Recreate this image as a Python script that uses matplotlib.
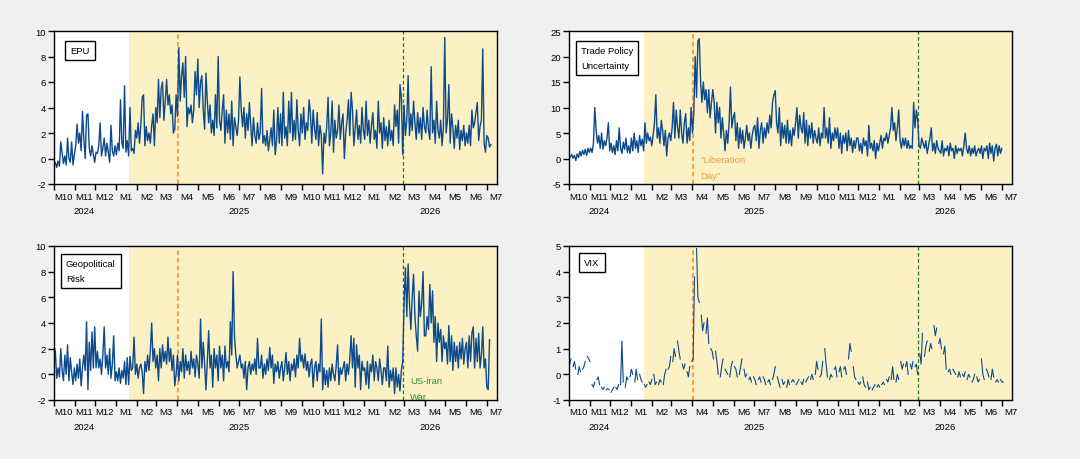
import numpy as np
import pandas as pd
import matplotlib
matplotlib.use("Agg")
import matplotlib.pyplot as plt
import matplotlib.dates as mdates

plt.rcParams['font.family'] = ['Liberation Sans', 'DejaVu Sans']
plt.rcParams['axes.unicode_minus'] = False

# every second day from 2024-10-01 (by month)
epu = [
    -0.5, -0.3, -0.7, -0.2, -0.6, 1.3, 0.4, -0.4, 0.2, -0.5, 1.6, 0.0, -0.3, 1.3, -0.5, 0.3,   # Oct 24
    1.0, 2.7, 1.2, 2.0, 0.6, 3.7, 1.5, 0.0, 3.4, 3.5, 0.8, 0.2, 1.0, 0.3, -0.3,              # Nov
    0.5, 0.4, 1.0, 2.8, 0.2, 0.8, 1.6, 0.2, 1.2, 0.5, -0.3, 2.6, 0.6, 0.2, 1.0,              # Dec
    0.3, 1.2, 0.6, 4.6, 1.2, 0.8, 5.7, 0.5, 1.4, 0.2, 4.0, 0.6, 0.8, 0.4, 2.2, 1.6,          # Jan 25
    2.8, 1.2, 2.6, 4.8, 5.0, 1.0, 2.5, 1.4, 2.0, 1.2, 2.6, 3.5, 1.0, 4.0,                    # Feb
    2.8, 6.2, 3.2, 5.5, 6.0, 3.0, 4.5, 6.2, 4.2, 5.0, 3.5, 4.2, 2.0, 2.3, 5.0,               # Mar
    3.3, 8.7, 4.5, 6.5, 7.5, 4.8, 8.0, 2.5, 4.0, 3.5, 4.2, 2.8, 3.8, 6.8, 5.0,               # Apr
    7.8, 4.0, 6.0, 6.5, 3.8, 2.3, 6.7, 4.5, 2.8, 4.2, 2.0, 3.0, 1.8, 5.0, 2.4, 8.0,          # May
    3.0, 2.2, 3.8, 5.0, 1.2, 3.8, 2.0, 3.5, 1.5, 4.5, 1.0, 3.2, 2.5, 1.8, 3.0,               # Jun
    6.4, 3.8, 2.5, 4.0, 1.6, 3.5, 2.2, 4.4, 2.6, 1.0, 3.2, 1.8, 1.2, 2.8, 1.5,               # Jul
    2.0, 5.5, 1.2, 1.8, 1.0, 2.2, 0.6, 1.5, 2.4, 1.0, 3.8, 0.3, 1.4, 4.0, 1.2, 3.5,          # Aug
    1.0, 5.2, 1.6, 2.5, 1.0, 4.5, 2.0, 5.2, 1.4, 3.0, 1.5, 4.6, 2.2, 1.0, 3.5,               # Sep
    2.0, 4.0, 1.5, 2.8, 2.2, 4.6, 3.5, 1.2, 3.8, 2.4, 1.5, 3.6, 1.0, 2.6, 1.8,               # Oct
    -1.2, 2.0, 1.2, 2.5, 4.8, 1.0, 2.0, 4.5, 0.5, 3.0, 1.6, 2.2, 4.2, 1.5, 2.8,              # Nov
    3.5, 0.0, 2.0, 3.0, 4.6, 1.8, 5.2, 3.8, 1.0, 2.4, 3.8, 1.5, 2.6, 1.2, 4.0, 2.2,          # Dec
    1.5, 4.5, 1.8, 3.0, 1.2, 2.6, 3.6, 1.5, 2.2, 0.8, 4.5, 2.0, 2.8, 0.8, 3.2,               # Jan 26
    1.4, 2.5, 1.0, 3.0, 1.4, 2.2, 1.0, 4.2, 2.5, 3.8, 1.2, 5.8, 4.8, 0.3,                    # Feb
    4.2, 1.8, 3.0, 6.5, 1.8, 3.5, 2.2, 4.5, 2.8, 1.5, 3.6, 2.0, 3.2, 1.5, 4.0, 2.5,          # Mar
    2.0, 3.8, 2.2, 1.5, 7.2, 2.0, 3.0, 1.2, 4.5, 2.2, 1.6, 3.0, 1.0, 2.5, 9.5,               # Apr
    2.0, 3.0, 5.8, 1.2, 3.5, 2.4, 0.8, 2.6, 1.6, 3.0, 0.7, 2.2, 1.4, 2.6, 1.0,               # May
    2.0, 1.2, 2.6, 1.0, 3.8, 2.4, 2.8, 3.6, 4.4, 1.4, 2.5, 3.0, 8.6, 1.2, 0.5,               # Jun
    1.8, 1.6, 0.9, 1.1,                                                                      # Jul
]

tpu = [
    0.6, 0.3, 0.8, 0.1, 0.6, -0.4, 0.9, 0.2, 1.4, 0.5, 1.6, 0.8, 1.8, 0.6, 2.0, 1.2,
    2.0, 1.2, 3.0, 10.0, 5.5, 3.0, 4.5, 2.0, 5.0, 1.8, 3.5, 2.5, 4.0, 7.0, 1.5,
    3.0, 1.2, 2.5, 0.8, 3.5, 1.5, 6.0, 2.0, 1.0, 3.2, 1.8, 4.0, 1.2, 2.5, 1.0,
    4.0, 1.5, 5.0, 2.0, 3.5, 1.2, 4.5, 2.5, 3.8, 1.5, 7.0, 3.0, 5.0, 3.5, 4.2, 2.5,
    4.5, 7.0, 12.5, 4.0, 6.0, 3.0, 7.5, 5.5, 2.5, 5.5, 0.5, 4.0, 5.0, 3.5,
    6.0, 11.0, 4.0, 9.5, 6.0, 4.0, 9.5, 5.0, 3.0, 7.0, 8.8, 3.0, 6.0, 3.5, 10.0,
    5.0, 9.0, 20.0, 12.0, 23.0, 23.5, 15.0, 11.0, 15.0, 11.5, 13.5, 9.0, 13.5, 8.0, 11.0,
    13.5, 11.0, 5.0, 11.0, 7.0, 10.0, 4.0, 8.0, 5.0, 1.5, 5.5, 3.0, 7.0, 14.0, 6.0, 8.0,
    9.0, 3.5, 7.0, 2.0, 6.0, 3.0, 5.5, 2.0, 4.0, 6.5, 3.5, 5.0, 2.0, 4.5, 6.0,
    6.5, 3.5, 8.0, 2.0, 5.5, 7.0, 3.0, 6.0, 4.0, 7.0, 5.0, 8.5, 6.0, 11.0, 12.5,
    13.3, 7.0, 5.0, 10.0, 2.5, 7.0, 4.0, 6.5, 3.0, 7.5, 3.0, 5.5, 2.5, 6.0, 4.5, 7.0,
    10.0, 4.0, 8.5, 6.0, 5.0, 9.0, 3.0, 7.5, 2.5, 6.5, 4.0, 7.0, 3.0, 5.5, 4.0,
    3.0, 6.0, 2.5, 5.0, 4.0, 10.0, 4.0, 6.0, 3.0, 8.0, 2.0, 5.0, 3.5, 6.0, 4.0,
    6.0, 2.0, 5.0, 1.0, 4.5, 3.0, 5.0, 1.5, 5.5, 2.5, 4.0, 1.2, 3.5, 2.0, 4.0,
    4.0, 1.5, 3.0, 1.0, 4.0, 2.5, 3.5, 0.5, 6.5, 2.0, 3.0, 1.5, 3.5, 0.0, 3.0, 1.5,
    3.0, 4.5, 2.0, 4.0, 3.5, 5.0, 3.0, 4.5, 6.0, 10.0, 5.5, 7.0, 3.5, 6.0, 9.5,
    3.5, 2.0, 4.0, 2.5, 4.0, 2.0, 3.5, 2.0, 2.5, 2.0, 11.0, 6.0, 9.5, 7.5,
    2.5, 2.0, 4.0, 3.0, 2.0, 3.5, 1.0, 2.5, 4.0, 6.0, 1.5, 3.0, 1.0, 3.5, 2.0, 1.5,
    1.0, 3.5, 0.5, 2.0, 1.5, 2.5, 0.5, 3.0, 1.5, 2.0, 0.0, 2.5, 1.0, 2.0, 1.5,
    2.0, 0.5, 2.5, 5.0, 2.0, 1.0, 2.5, 0.5, 2.0, 1.0, 2.5, 0.5, 1.5, 2.0, 1.0,
    2.5, 0.0, 2.0, 1.5, 2.5, 0.0, 3.0, 1.0, 2.5, -0.5, 2.0, 2.8, 0.5, 2.5, 1.0,
    2.0,
]

gpr = [
    2.2, 1.8, -0.3, 0.5, -0.2, 2.0, 0.3, -0.5, 1.5, 0.0, 2.3, -0.5, 1.3, 0.2, -0.8, 0.5,
    -0.5, 0.8, -0.3, 1.2, -0.9, 0.5, 1.5, 0.3, 4.1, -1.2, 2.5, 0.3, 3.3, 0.5, 3.7,
    0.5, 1.8, 0.5, 1.2, 0.0, 1.5, 3.7, 0.5, 1.5, 0.0, 2.0, -0.3, 0.8, 3.0, -0.5,
    0.2, -0.5, 0.5, -0.7, 0.3, -0.3, 1.0, -0.8, 1.3, -0.8, 1.4, 0.3, 0.5, 2.9, 0.0, 0.8,
    -0.3, 0.5, 0.8, 0.2, -1.5, 1.0, 0.2, 1.5, 0.3, 1.8, 4.0, 1.0, 2.0, 0.5,
    1.5, -0.5, 2.0, 0.5, 2.3, 1.0, 1.8, 0.8, 2.9, 1.0, 2.0, 0.3, 1.5, -0.9, 0.0,
    1.5, -0.5, 1.0, 0.2, 2.0, -0.3, 1.5, 0.3, 1.0, 0.0, 1.8, 0.5, 1.2, -0.2, 1.5,
    0.8, -0.3, 4.3, 0.5, 2.5, 0.8, -1.2, 1.0, 3.4, 0.5, 1.5, -1.0, 2.0, 0.5, 1.5, -0.5,
    2.2, 0.5, 1.5, -0.5, 2.2, 0.5, 1.0, 0.2, 4.1, 1.5, 8.0, 3.0, 1.5, 0.5, 1.0,
    1.5, 0.5, 0.8, -0.3, 1.0, -1.2, 0.5, 1.0, 0.0, 0.8, 0.3, 1.2, 0.0, 2.8, 0.5,
    0.5, 1.5, -0.3, 0.8, 0.0, 1.2, 0.3, 2.1, 0.5, 1.5, -0.7, 0.8, 0.2, 1.0, -0.3, 0.5,
    1.0, -0.5, 0.5, 1.7, 0.0, 1.0, -0.5, 0.8, 0.3, 1.2, -0.2, 1.5, 0.5, 2.8, 1.0,
    1.5, 0.5, 1.6, 0.3, 1.0, -0.2, 0.8, 1.2, -1.0, 0.5, 1.0, -0.5, 0.8, 0.2, 4.3,
    -1.2, 0.5, -0.8, 0.3, -1.0, 0.5, -0.5, 0.8, 0.0, -0.5, 0.7, 2.3, -0.8, 0.5, 0.0,
    0.5, 1.0, -0.5, 0.8, 0.0, 1.2, 3.0, 0.5, 2.8, -1.0, 2.3, 0.5, 1.5, -1.2, 1.0, 0.3,
    0.5, -0.8, 1.0, -1.1, 0.8, 0.2, 1.5, -0.5, 1.0, 0.5, -0.5, 1.2, 0.3, -0.8, 0.5,
    0.5, -0.5, 2.2, -1.0, 0.3, -0.5, 0.5, -1.5, 0.5, -1.0, 0.0, -1.3, 0.3, 1.0,
    5.5, 8.3, 4.5, 8.6, 5.5, 3.5, 6.0, 7.8, 4.5, 3.0, 1.8, 6.5, 4.5, 5.5, 8.0, 3.0,
    3.0, 4.5, 3.5, 7.0, 4.0, 6.5, 2.5, 4.5, 1.0, 4.0, 2.5, 3.5, 1.0, 3.0, 2.0,
    2.5, 0.8, 3.8, 1.0, 3.0, 0.3, 2.5, 1.0, 2.2, 0.5, 2.5, 1.2, 2.8, 0.8, 2.0,
    2.5, 0.5, 3.0, 1.0, 3.2, 3.7, 0.5, 2.8, 1.0, 3.2, 0.5, 1.5, 3.7, 0.5, 1.2,
    -1.0, -1.2, 2.7,
]

# VIX: Mon / Wed / Fri of each week, weeks starting 2024-09-30
vix = [
    0.2, 0.4, 0.6, 0.3, 0.5, 0.2, 0.0, 0.3, 0.1, 0.2, 0.3, 0.5, 0.7, 0.6, 0.5,
    -0.4, -0.5, -0.3, -0.2, -0.1, -0.4, -0.5, -0.6, -0.5, -0.6, -0.55, -0.6,
    -0.7, -0.6, -0.5, -0.5, -0.6, -0.4, -0.4, 1.3, -0.3, -0.5, -0.1, -0.2, -0.1, 0.2, 0.0,
    -0.3, 0.2, -0.2, 0.0, -0.2, -0.3, -0.4, -0.5, -0.4, -0.3, -0.4, -0.2,
    0.0, -0.4, -0.3, -0.4, -0.2, -0.3, -0.4, 0.0, 0.2, 0.2, 0.3, 0.7,
    0.5, 1.0, 0.7, 1.3, 0.9, 0.6, 0.4, 0.2, 0.4, 0.1, -0.1, 0.3, 0.5, 0.6, 3.8,
    4.9, 3.0, 2.8, 2.3, 1.7, 2.0, 1.6, 2.2, 1.2, 1.0, 0.9, 0.6,
    0.9, 0.5, 0.0, -0.1, 0.3, 0.6, 0.2, 0.1, 0.0, -0.1, 0.3, 0.5,
    0.3, 0.2, -0.1, 0.0, 0.3, 0.6, 0.2, -0.1, 0.0, -0.2, -0.1, -0.3, -0.1, -0.2, -0.4,
    -0.2, -0.1, -0.3, -0.1, -0.2, -0.4, -0.3, -0.2, -0.4, -0.2, 0.0, 0.3,
    -0.1, -0.3, -0.5, -0.2, -0.4, -0.3, -0.5, -0.2, -0.4, -0.3, -0.2, -0.3,
    -0.4, -0.3, -0.2, -0.3, -0.4, -0.2, -0.3, -0.2, -0.1, -0.2, 0.0, -0.2, 0.0, 0.5, 0.2,
    -0.1, 0.0, 0.5, 1.0, 0.4, -0.1, -0.2, 0.0, -0.1, 0.2, 0.3, -0.1,
    0.1, 0.3, -0.1, 0.2, 0.3, 0.0, 0.6, 1.2, 0.9, 0.3, -0.1, -0.2,
    -0.3, -0.4, -0.3, -0.1, -0.4, -0.5, -0.3, -0.6, -0.5, -0.6, -0.5, -0.4, -0.5, -0.4, -0.5,
    -0.4, -0.3, -0.4, -0.2, -0.3, -0.1, -0.2, 0.3, -0.2, -0.3, 0.0, -0.2,
    0.5, 0.2, 0.4, 0.3, 0.5, 0.0, 0.4, 0.2, 0.5, 0.3, 0.4, 0.0,
    0.8, 0.4, 1.6, 0.7, 1.1, 1.3, 0.9, 1.2, 1.0, 1.9, 1.5, 1.8, 1.2, 1.4, 1.0,
    0.8, 1.1, 0.2, 0.1, 0.2, 0.0, 0.2, 0.1, 0.0, -0.1, 0.1, -0.1,
    0.0, -0.1, 0.1, -0.2, 0.0, -0.1, -0.3, -0.2, 0.0, -0.1, -0.3, -0.2,
    0.6, 0.0, -0.2, 0.2, 0.1, -0.1, -0.2, 0.2, -0.1, -0.3, -0.2, -0.3, -0.2, -0.3, -0.3,
]

inauguration = "2025-01-20"
liberation_day = "2025-04-02"
iran_war = "2026-02-28"

LINE = '#0B4A8C'
SHADE = '#FCF1C4'
FS = 6.8
x0 = pd.Timestamp("2024-10-01")
x1 = pd.Timestamp("2026-07-16")

fig = plt.figure(figsize=(10.8, 4.6), dpi=100, facecolor='#F0F0F0')
W, H = 1080, 460
ax_epu = fig.add_axes([54 / W, 1 - 185 / H, 443 / W, 153 / H])
ax_tpu = fig.add_axes([569 / W, 1 - 185 / H, 443 / W, 153 / H])
ax_gpr = fig.add_axes([54 / W, 1 - 401 / H, 443 / W, 154 / H])
ax_vix = fig.add_axes([569 / W, 1 - 401 / H, 443 / W, 154 / H])


def style(ax, ylim, ystep, label, box_off):
    ax.set_facecolor('white')
    ax.set_xlim(x0, x1)
    ax.set_ylim(*ylim)
    ax.set_yticks(np.arange(ylim[0], ylim[1] + 0.1, ystep))
    ax.tick_params(axis='y', direction='out', length=4, width=1, labelsize=FS, pad=2)
    ax.axvspan(pd.Timestamp(inauguration), x1, color=SHADE, lw=0, zorder=0)
    ax.axvline(pd.Timestamp(liberation_day), color='#F7891C', ls=(0, (3, 2)), lw=1.1, zorder=1)
    ax.axvline(pd.Timestamp(iran_war), color='#1E7A1E', ls=(0, (3, 2)), lw=0.9, zorder=1)
    for s in ax.spines.values():
        s.set_linewidth(1)
        s.set_color('black')

    months = pd.date_range("2024-10-01", "2026-07-01", freq="MS")
    ax.set_xticks(mdates.date2num(months))
    ax.set_xticklabels([])
    ax.tick_params(axis='x', direction='out', length=4, width=1)
    for m in months:
        mid = m + pd.Timedelta(days=14)
        ax.annotate(f"M{m.month}", xy=(mdates.date2num(mid), 0),
                    xycoords=('data', 'axes fraction'), xytext=(0, -12),
                    textcoords='offset pixels', ha='center', va='center',
                    fontsize=FS, annotation_clip=False)
    for year, centre in [("2024", "2024-11-15"), ("2025", "2025-07-01"), ("2026", "2026-04-09")]:
        ax.annotate(year, xy=(mdates.date2num(pd.Timestamp(centre)), 0),
                    xycoords=('data', 'axes fraction'), xytext=(0, -27),
                    textcoords='offset pixels', ha='center', va='center',
                    fontsize=FS, annotation_clip=False)

    ax.annotate(label, xy=(0, 1), xycoords='axes fraction', xytext=box_off,
                textcoords='offset pixels', ha='left', va='top', fontsize=FS,
                linespacing=1.85,
                bbox=dict(boxstyle='square,pad=0.55', fc='white', ec='black', lw=1))


dates2 = pd.date_range("2024-10-01", periods=len(epu), freq="2D")
ax_epu.plot(dates2, epu, color=LINE, lw=1.0, zorder=2)
style(ax_epu, (-2, 10), 2, "EPU", (16, -15))

ax_tpu.plot(pd.date_range("2024-10-01", periods=len(tpu), freq="2D"), tpu, color=LINE, lw=1.0, zorder=2)
style(ax_tpu, (-5, 25), 5, "Trade Policy\nUncertainty", (12, -15))
ax_tpu.annotate('"Liberation\nDay"', xy=(mdates.date2num(pd.Timestamp(liberation_day)), -1.75),
                xytext=(7, 0), textcoords='offset pixels', ha='left', va='center',
                fontsize=FS, color='#F39C45', linespacing=1.95)

ax_gpr.plot(pd.date_range("2024-10-01", periods=len(gpr), freq="2D"), gpr, color=LINE, lw=1.0, zorder=2)
style(ax_gpr, (-2, 10), 2, "Geopolitical\nRisk", (12, -13))
ax_gpr.annotate('US-iran\nWar', xy=(mdates.date2num(pd.Timestamp(iran_war)), -1.12),
                xytext=(7, 0), textcoords='offset pixels', ha='left', va='center',
                fontsize=FS, color='#2F8F2F', linespacing=1.95)

vix_wk = np.array(vix).reshape(-1, 3)
weeks = pd.date_range("2024-09-30", periods=len(vix_wk), freq="7D")
for wk, vals in zip(weeks, vix_wk):
    ax_vix.plot(wk + pd.to_timedelta([0, 2, 4], unit='D'), vals, color=LINE, lw=0.8, zorder=2)
style(ax_vix, (-1, 5), 1, "VIX", (15, -12))

fig.savefig("out.png", dpi=100, facecolor=fig.get_facecolor())
